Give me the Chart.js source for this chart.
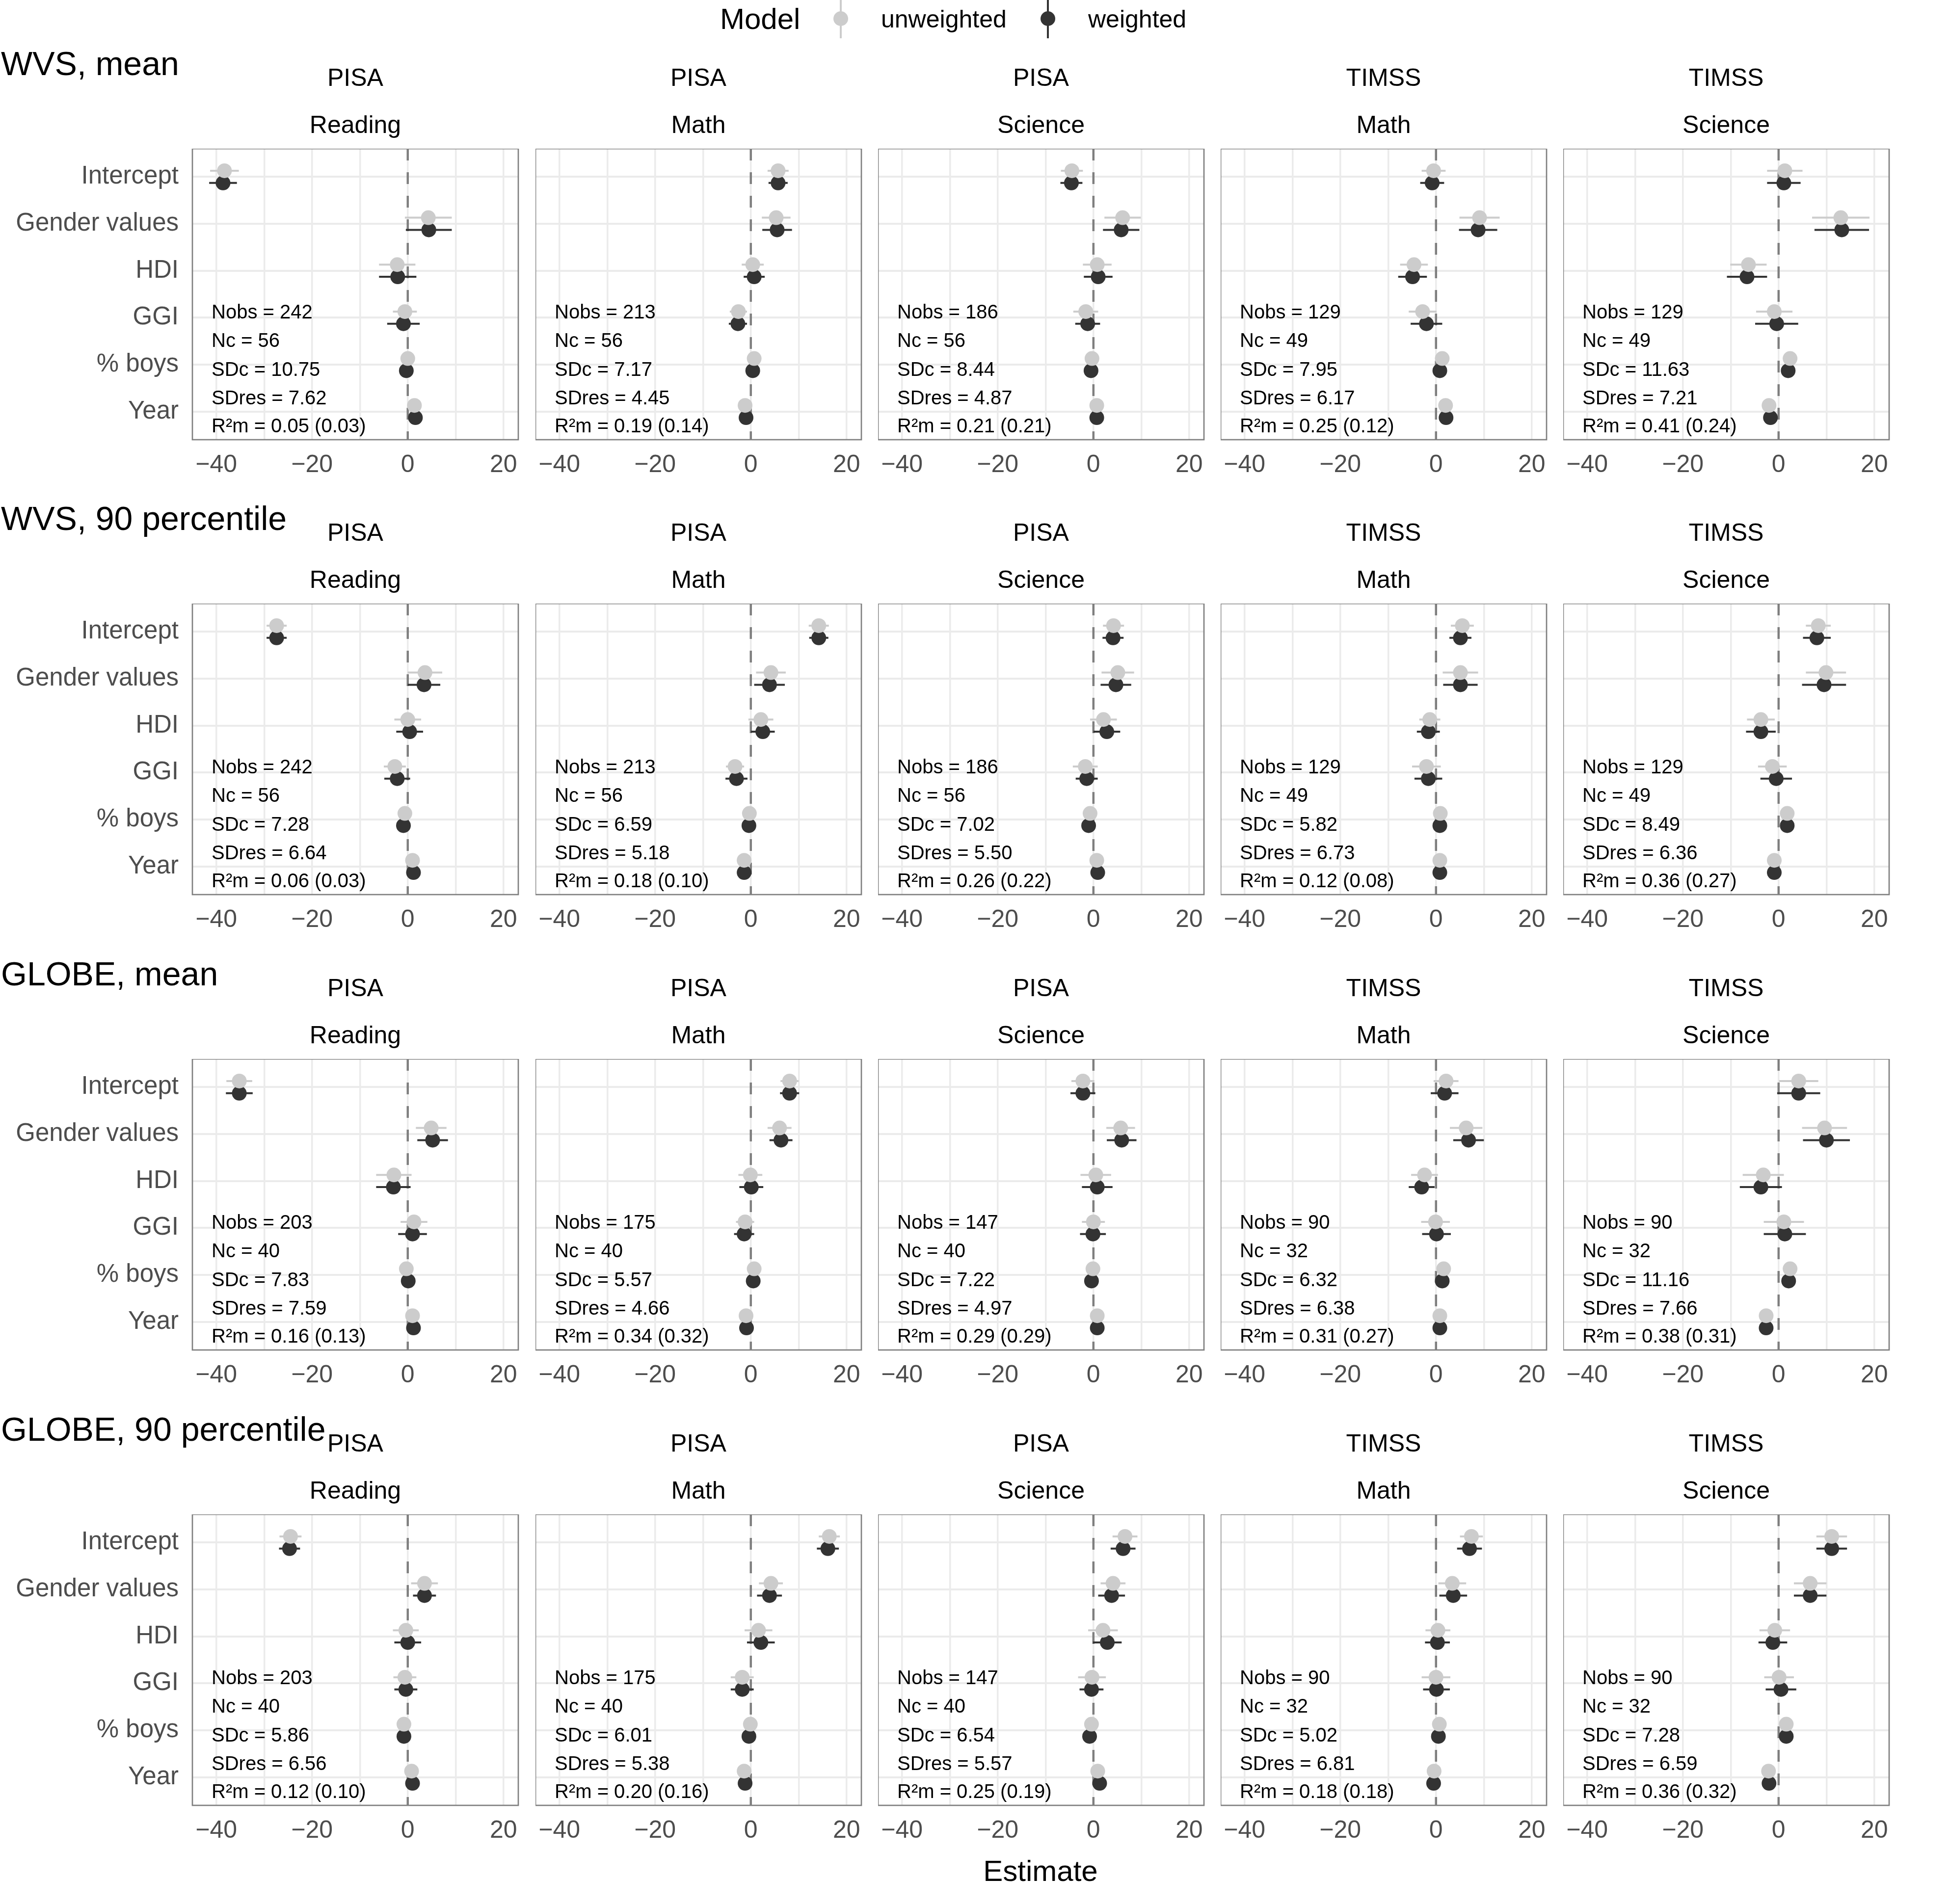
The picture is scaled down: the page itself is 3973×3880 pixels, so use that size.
<!DOCTYPE html>
<html>
<head>
<meta charset="utf-8">
<script src="https://cdn.jsdelivr.net/npm/chart.js@4.4.1/dist/chart.umd.min.js"></script>
<style>
  html, body { margin: 0; padding: 0; background: #fff; }
  body { width: 3973px; height: 3880px; position: relative; overflow: hidden;
         font-family: "Liberation Sans", Arial, sans-serif; }
  .t { position: absolute; white-space: nowrap; line-height: 1; }
  canvas { position: absolute; }
</style>
</head>
<body>
<script>
// термины модели (ось y)
const terms = ["Intercept", "Gender values", "HDI", "GGI", "% boys", "Year"];
const rowTitles = ["WVS, mean", "WVS, 90 percentile", "GLOBE, mean", "GLOBE, 90 percentile"];
const tests = ["PISA", "PISA", "PISA", "TIMSS", "TIMSS"];
const subjects = ["Reading", "Math", "Science", "Math", "Science"];
const xTicks = [-40, -30, -20, -10, 0, 10, 20];

// оценки: по панели (столбец), по термину; CI = полуширина интервала
const wvsMeanUnweighted = [
  [-38.3, 4.3, -2.2, -0.6, 0.0, 1.4],
  [5.7, 5.3, 0.4, -2.6, 0.7, -1.2],
  [-4.5, 6.1, 0.8, -1.6, -0.3, 0.7],
  [-0.5, 9.1, -4.6, -2.8, 1.3, 2.0],
  [1.3, 13.0, -6.3, -0.9, 2.4, -2.0],
];
const wvsMeanUnweightedCI = [
  [3.0, 4.9, 3.8, 2.5, 0.5, 0.5],
  [2.2, 3.0, 2.3, 1.8, 0.3, 0.3],
  [2.3, 3.8, 3.0, 2.6, 0.4, 0.3],
  [2.5, 4.2, 2.9, 2.9, 0.4, 0.4],
  [3.7, 6.0, 3.8, 3.8, 0.4, 0.4],
];
const wvsMeanWeighted = [
  [-38.6, 4.4, -2.1, -0.9, -0.3, 1.6],
  [5.7, 5.5, 0.7, -2.7, 0.4, -1.0],
  [-4.6, 5.8, 1.0, -1.2, -0.5, 0.7],
  [-0.8, 8.8, -4.9, -2.0, 0.8, 2.1],
  [1.1, 13.2, -6.6, -0.4, 2.0, -1.7],
];
const wvsMeanWeightedCI = [
  [2.9, 4.8, 3.9, 3.4, 0.3, 0.5],
  [2.0, 3.1, 2.2, 1.9, 0.3, 0.3],
  [2.3, 3.8, 3.0, 2.6, 0.4, 0.3],
  [2.5, 4.0, 3.0, 3.3, 0.4, 0.4],
  [3.5, 5.7, 4.2, 4.5, 0.5, 0.4],
];

const wvsP90Unweighted = [
  [-27.4, 3.6, 0.0, -2.7, -0.6, 1.0],
  [14.2, 4.2, 2.1, -3.3, -0.3, -1.4],
  [4.2, 5.1, 2.1, -1.7, -0.7, 0.7],
  [5.5, 5.1, -1.3, -2.0, 0.9, 0.8],
  [8.3, 9.9, -3.7, -1.3, 1.8, -0.9],
];
const wvsP90UnweightedCI = [
  [2.1, 3.6, 2.8, 2.3, 0.5, 0.4],
  [2.1, 3.1, 2.6, 1.9, 0.5, 0.3],
  [2.2, 3.4, 2.8, 2.6, 0.4, 0.3],
  [2.4, 3.7, 2.2, 3.0, 0.4, 0.3],
  [2.6, 4.2, 2.9, 3.0, 0.4, 0.3],
];
const wvsP90Weighted = [
  [-27.4, 3.4, 0.4, -2.2, -0.9, 1.2],
  [14.2, 3.9, 2.5, -3.0, -0.4, -1.4],
  [4.1, 4.7, 2.8, -1.4, -1.0, 0.9],
  [5.1, 5.1, -1.6, -1.6, 0.8, 0.8],
  [8.0, 9.5, -3.7, -0.5, 1.8, -0.9],
];
const wvsP90WeightedCI = [
  [2.1, 3.4, 2.8, 2.7, 0.4, 0.4],
  [2.0, 3.2, 2.5, 2.3, 0.4, 0.3],
  [2.2, 3.2, 2.8, 2.3, 0.4, 0.3],
  [2.3, 3.6, 2.4, 2.9, 0.4, 0.3],
  [2.9, 4.6, 3.1, 3.3, 0.5, 0.3],
];

const globeMeanUnweighted = [
  [-35.2, 4.9, -2.9, 1.3, -0.3, 1.0],
  [8.1, 6.0, -0.1, -1.2, 0.7, -1.0],
  [-2.2, 5.7, 0.5, 0.0, -0.1, 0.8],
  [2.1, 6.3, -2.4, -0.1, 1.6, 0.8],
  [4.2, 9.6, -3.2, 1.1, 2.4, -2.6],
];
const globeMeanUnweightedCI = [
  [2.7, 3.2, 3.7, 2.8, 0.4, 0.4],
  [1.9, 2.5, 2.5, 1.9, 0.4, 0.3],
  [2.4, 3.0, 3.2, 2.4, 0.4, 0.3],
  [2.6, 3.4, 2.8, 3.0, 0.4, 0.3],
  [4.1, 4.7, 4.3, 4.2, 0.5, 0.4],
];
const globeMeanWeighted = [
  [-35.2, 5.2, -3.0, 1.0, 0.1, 1.2],
  [8.1, 6.3, 0.1, -1.4, 0.5, -0.9],
  [-2.2, 5.9, 0.8, -0.1, -0.4, 0.8],
  [1.8, 6.8, -3.0, 0.1, 1.3, 0.8],
  [4.2, 10.0, -3.7, 1.3, 2.1, -2.6],
];
const globeMeanWeightedCI = [
  [2.8, 3.2, 3.6, 3.0, 0.4, 0.4],
  [2.0, 2.4, 2.5, 2.1, 0.4, 0.3],
  [2.6, 3.1, 3.2, 2.7, 0.4, 0.3],
  [2.9, 3.2, 2.7, 3.0, 0.4, 0.3],
  [4.5, 4.9, 4.4, 4.4, 0.5, 0.4],
];

const globeP90Unweighted = [
  [-24.5, 3.5, -0.4, -0.6, -0.8, 0.8],
  [16.4, 4.2, 1.6, -1.8, -0.1, -1.4],
  [6.6, 4.1, 2.0, -0.3, -0.4, 0.9],
  [7.4, 3.4, 0.4, 0.0, 0.7, -0.4],
  [11.1, 6.6, -0.8, 0.1, 1.6, -2.1],
];
const globeP90UnweightedCI = [
  [2.3, 2.8, 2.7, 2.4, 0.4, 0.3],
  [2.2, 2.5, 2.9, 2.4, 0.3, 0.3],
  [2.6, 2.6, 3.1, 2.9, 0.4, 0.3],
  [2.4, 2.9, 2.6, 3.0, 0.4, 0.3],
  [3.2, 3.4, 3.2, 3.1, 0.4, 0.3],
];
const globeP90Weighted = [
  [-24.7, 3.5, 0.0, -0.4, -0.8, 1.0],
  [16.1, 3.9, 2.1, -1.8, -0.4, -1.2],
  [6.2, 3.8, 2.9, -0.4, -0.8, 1.3],
  [7.0, 3.6, 0.3, 0.1, 0.5, -0.5],
  [11.1, 6.6, -1.2, 0.5, 1.6, -2.0],
];
const globeP90WeightedCI = [
  [2.2, 2.4, 2.8, 2.4, 0.4, 0.3],
  [2.3, 2.6, 2.9, 2.4, 0.3, 0.3],
  [2.6, 2.8, 3.0, 2.5, 0.4, 0.3],
  [2.6, 2.9, 2.6, 2.8, 0.4, 0.3],
  [3.2, 3.4, 3.0, 3.2, 0.5, 0.3],
];

// подписи в панелях
const nObs = [[242, 213, 186, 129, 129], [242, 213, 186, 129, 129], [203, 175, 147, 90, 90], [203, 175, 147, 90, 90]];
const nC = [[56, 56, 56, 49, 49], [56, 56, 56, 49, 49], [40, 40, 40, 32, 32], [40, 40, 40, 32, 32]];
const sdC = [[10.75, 7.17, 8.44, 7.95, 11.63], [7.28, 6.59, 7.02, 5.82, 8.49], [7.83, 5.57, 7.22, 6.32, 11.16], [5.86, 6.01, 6.54, 5.02, 7.28]];
const sdRes = [[7.62, 4.45, 4.87, 6.17, 7.21], [6.64, 5.18, 5.50, 6.73, 6.36], [7.59, 4.66, 4.97, 6.38, 7.66], [6.56, 5.38, 5.57, 6.81, 6.59]];
const r2m = [[0.05, 0.19, 0.21, 0.25, 0.41], [0.06, 0.18, 0.26, 0.12, 0.36], [0.16, 0.34, 0.29, 0.31, 0.38], [0.12, 0.20, 0.25, 0.18, 0.36]];
const r2mIn = [[0.03, 0.14, 0.21, 0.12, 0.24], [0.03, 0.10, 0.22, 0.08, 0.27], [0.13, 0.32, 0.29, 0.27, 0.31], [0.10, 0.16, 0.19, 0.18, 0.32]];

const rows = [
  [wvsMeanUnweighted, wvsMeanUnweightedCI, wvsMeanWeighted, wvsMeanWeightedCI],
  [wvsP90Unweighted, wvsP90UnweightedCI, wvsP90Weighted, wvsP90WeightedCI],
  [globeMeanUnweighted, globeMeanUnweightedCI, globeMeanWeighted, globeMeanWeightedCI],
  [globeP90Unweighted, globeP90UnweightedCI, globeP90Weighted, globeP90WeightedCI],
];

// раскладка
const FONT = '"Liberation Sans", Arial, sans-serif';
const PANEL_LEFT = [392, 1091, 1789, 2487, 3185];
const PANEL_TOP = [303, 1230, 2158, 3086];
const PANEL_W = 664, PANEL_H = 593, AXIS_H = 90, PAD_R = 24;
const DODGE = 0.13;
const GREY = "#CCCCCC", DARK = "#333333";

const addText = (str, x, y, size, align = "left", color = "#000") => {
  const d = document.createElement("div");
  d.className = "t";
  d.textContent = str;
  d.style.fontSize = size + "px";
  d.style.color = color;
  d.style.left = x + "px";
  d.style.top = (y - 0.49 * size) + "px";
  if (align === "center") d.style.transform = "translateX(-50%)";
  if (align === "right") d.style.transform = "translateX(-100%)";
  document.body.appendChild(d);
};

const fmtTick = (v) => (v < 0 ? "\u2212" + Math.abs(v) : String(v));

const noPadding = (s) => {
  s.paddingTop = 0;
  s.paddingBottom = 0;
  s.paddingLeft = 0;
  s.paddingRight = 0;
};

// усы (горизонтальные интервалы)
const errorBars = {
  id: "errorBars",
  beforeDatasetDraw(chart, args) {
    const ds = chart.data.datasets[args.index];
    const { ctx, scales } = chart;
    ctx.save();
    ctx.strokeStyle = ds.backgroundColor;
    ctx.lineWidth = 4;
    ds.data.forEach((p) => {
      const y = scales.y.getPixelForValue(p.y);
      ctx.beginPath();
      ctx.moveTo(scales.x.getPixelForValue(p.lo), y);
      ctx.lineTo(scales.x.getPixelForValue(p.hi), y);
      ctx.stroke();
    });
    ctx.restore();
  },
};

// нулевая линия
const zeroLine = {
  id: "zeroLine",
  beforeDatasetsDraw(chart) {
    const { ctx, chartArea, scales } = chart;
    const x = scales.x.getPixelForValue(0);
    ctx.save();
    ctx.strokeStyle = "#7F7F7F";
    ctx.lineWidth = 4.5;
    ctx.setLineDash([24, 24]);
    ctx.beginPath();
    ctx.moveTo(x, chartArea.top);
    ctx.lineTo(x, chartArea.bottom);
    ctx.stroke();
    ctx.restore();
  },
};

// рамка панели и текст статистик
const panelDecor = {
  id: "panelDecor",
  afterDraw(chart, args, opts) {
    const { ctx, chartArea } = chart;
    ctx.save();
    ctx.fillStyle = "#000";
    ctx.font = "40px " + FONT;
    ctx.textBaseline = "middle";
    ctx.textAlign = "left";
    const offs = [335, 393, 452, 510, 567];
    opts.lines.forEach((s, i) => ctx.fillText(s, chartArea.left + 39, chartArea.top + offs[i]));
    ctx.strokeStyle = "#808080";
    ctx.lineWidth = 2.7;
    ctx.strokeRect(chartArea.left, chartArea.top, chartArea.right - chartArea.left, chartArea.bottom - chartArea.top);
    ctx.restore();
  },
};

const makeData = (est, ci, shift) =>
  terms.map((_, i) => ({ x: est[i], y: i + shift, lo: est[i] - ci[i], hi: est[i] + ci[i] }));

rows.forEach((row, r) => {
  const [unw, unwCI, w, wCI] = row;
  addText(rowTitles[r], 2, PANEL_TOP[r] - 175, 68);
  PANEL_LEFT.forEach((left, c) => {
    addText(tests[c], left + PANEL_W / 2, PANEL_TOP[r] - 146, 50, "center");
    addText(subjects[c], left + PANEL_W / 2, PANEL_TOP[r] - 50, 50, "center");

    const first = c === 0;
    const canvas = document.createElement("canvas");
    const cw = (first ? left : 0) + PANEL_W + PAD_R;
    const chh = PANEL_H + AXIS_H;
    canvas.width = cw;
    canvas.height = chh;
    canvas.style.width = cw + "px";
    canvas.style.height = chh + "px";
    canvas.style.left = (first ? 0 : left) + "px";
    canvas.style.top = PANEL_TOP[r] + "px";
    document.body.appendChild(canvas);

    new Chart(canvas.getContext("2d"), {
      type: "scatter",
      data: {
        datasets: [
          { label: "unweighted", data: makeData(unw[c], unwCI[c], -DODGE), backgroundColor: GREY,
            pointRadius: 15, pointBorderWidth: 0, pointBorderColor: GREY },
          { label: "weighted", data: makeData(w[c], wCI[c], DODGE), backgroundColor: DARK,
            pointRadius: 15, pointBorderWidth: 0, pointBorderColor: DARK },
        ],
      },
      options: {
        responsive: false,
        animation: false,
        devicePixelRatio: 1,
        events: [],
        layout: { autoPadding: false, padding: { left: 0, right: PAD_R, top: 0, bottom: 0 } },
        plugins: {
          legend: { display: false },
          tooltip: { enabled: false },
          panelDecor: {
            lines: [
              `Nobs = ${nObs[r][c]}`,
              `Nc = ${nC[r][c]}`,
              `SDc = ${sdC[r][c].toFixed(2)}`,
              `SDres = ${sdRes[r][c].toFixed(2)}`,
              `R\u00B2m = ${r2m[r][c].toFixed(2)} (${r2mIn[r][c].toFixed(2)})`,
            ],
          },
        },
        scales: {
          x: {
            type: "linear",
            min: -45,
            max: 23.1,
            afterBuildTicks: (s) => { s.ticks = xTicks.map((v) => ({ value: v })); },
            afterFit: (s) => { s.height = AXIS_H; noPadding(s); },
            ticks: {
              callback: (v) => (v % 20 === 0 ? fmtTick(v) : ""),
              font: { size: 50, family: FONT },
              color: "#4D4D4D",
              padding: 22,
              autoSkip: false,
              maxRotation: 0,
              minRotation: 0,
            },
            grid: { color: "#EBEBEB", lineWidth: 3.5, drawTicks: false },
            border: { display: false },
          },
          y: {
            type: "linear",
            reverse: true,
            min: -0.6,
            max: 5.6,
            afterBuildTicks: (s) => { s.ticks = terms.map((_, i) => ({ value: i })); },
            afterFit: (s) => { s.width = first ? left : 0; noPadding(s); },
            ticks: {
              display: first,
              callback: (v) => terms[v],
              font: { size: 51, family: FONT },
              color: "#4D4D4D",
              padding: 28,
              autoSkip: false,
            },
            grid: { color: "#EBEBEB", lineWidth: 4, drawTicks: false },
            border: { display: false },
          },
        },
      },
      plugins: [zeroLine, errorBars, panelDecor],
    });
  });
});

// легенда
addText("Model", 1467, 38, 60);
[[1713, GREY, "unweighted", 1795], [2135, DARK, "weighted", 2217]].forEach(([cx, col, lab, tx]) => {
  const line = document.createElement("div");
  line.style.cssText = `position:absolute;left:${cx - 2}px;top:0;width:4px;height:78px;background:${col};`;
  document.body.appendChild(line);
  const dot = document.createElement("div");
  dot.style.cssText = `position:absolute;left:${cx - 15}px;top:${38 - 15}px;width:30px;height:30px;border-radius:50%;background:${col};`;
  document.body.appendChild(dot);
  addText(lab, tx, 38, 50);
});

addText("Estimate", 2120, 3812, 60, "center");
</script>
</body>
</html>
